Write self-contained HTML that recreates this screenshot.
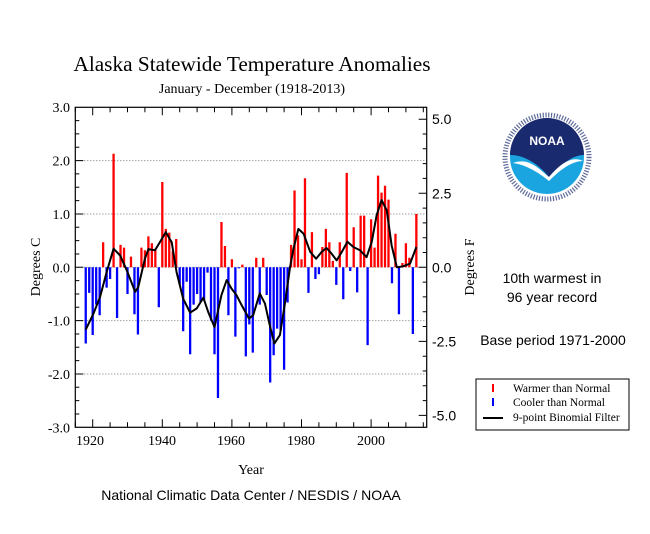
<!DOCTYPE html>
<html><head><meta charset="utf-8">
<style>
html,body{margin:0;padding:0;background:#fff;}
svg{display:block;}
</style></head>
<body>
<svg width="650" height="534" xmlns="http://www.w3.org/2000/svg" font-family="Liberation Serif, serif">
<rect width="650" height="534" fill="#fff"/>
<text x="252" y="71" font-size="21.3" text-anchor="middle">Alaska Statewide Temperature Anomalies</text>
<text x="252" y="93" font-size="14" text-anchor="middle">January - December (1918-2013)</text>
<g stroke="#777" stroke-width="1" stroke-dasharray="1 2">
<line x1="75.3" x2="426.7" y1="160.6" y2="160.6"/>
<line x1="75.3" x2="426.7" y1="214" y2="214"/>
<line x1="75.3" x2="426.7" y1="267.3" y2="267.3"/>
<line x1="75.3" x2="426.7" y1="320.6" y2="320.6"/>
<line x1="75.3" x2="426.7" y1="374" y2="374"/>
</g>
<g transform="translate(85.74,267.3) scale(3.48,-53.33)">
<path fill="none" stroke="#f00" stroke-width="0.66" d="M5,0V0.47M8,0V2.13M10,0V0.42M11,0V0.37M13,0V0.2M16,0V0.37M17,0V0.32M18,0V0.58M19,0V0.45M20,0V0.35M22,0V1.6M23,0V0.72M24,0V0.65M25,0V0.3M26,0V0.53M39,0V0.85M40,0V0.4M42,0V0.15M45,0V0.05M49,0V0.18M51,0V0.18M59,0V0.42M60,0V1.44M61,0V0.6M62,0V0.15M63,0V1.67M65,0V0.66M68,0V0.38M69,0V0.72M70,0V0.47M71,0V0.12M73,0V0.47M75,0V1.77M77,0V0.75M79,0V0.97M80,0V0.97M82,0V0.9M83,0V0.37M84,0V1.72M85,0V1.4M86,0V1.53M87,0V1.27M89,0V0.63M91,0V0.08M92,0V0.45M93,0V0.18M95,0V1.0"/>
<path fill="none" stroke="#00f" stroke-width="0.66" d="M0,0V-1.43M1,0V-0.48M2,0V-1.27M3,0V-0.7M4,0V-0.9M6,0V-0.38M7,0V-0.22M9,0V-0.95M12,0V-0.5M14,0V-0.88M15,0V-1.26M21,0V-0.75M27,0V-0.33M28,0V-1.2M29,0V-0.27M30,0V-1.63M31,0V-0.7M32,0V-0.5M33,0V-0.65M34,0V-0.6M35,0V-0.1M36,0V-1.0M37,0V-1.63M38,0V-2.45M41,0V-0.9M43,0V-1.3M44,0V-0.02M46,0V-1.67M47,0V-1.07M48,0V-1.6M50,0V-0.7M52,0V-0.52M53,0V-2.16M54,0V-1.65M55,0V-1.15M56,0V-1.18M57,0V-1.92M58,0V-0.66M64,0V-0.48M66,0V-0.22M67,0V-0.13M72,0V-0.33M74,0V-0.6M76,0V-0.07M78,0V-0.47M81,0V-1.46M88,0V-0.3M90,0V-0.88M94,0V-1.25"/>
<polyline fill="none" stroke="#000" stroke-width="2" vector-effect="non-scaling-stroke" stroke-linejoin="round" points="0,-1.17 2.2,-0.87 4.1,-0.56 6,-0.09 8,0.35 9.9,0.22 12,-0.09 14.2,-0.46 15.1,-0.37 17,0.16 18,0.34 19.9,0.32 21.3,0.47 23,0.66 24.7,0.47 26.1,-0.09 28,-0.59 30,-0.85 31.9,-0.77 33.8,-0.57 35.2,-0.84 37,-1.12 39,-0.52 40.5,-0.24 41.9,-0.4 43.3,-0.52 44.8,-0.71 46.9,-0.96 48.1,-0.9 50,-0.49 51.5,-0.68 52.9,-1.09 54.2,-1.43 55.8,-1.27 57.3,-0.65 58.7,0 59.7,0.35 61.1,0.72 62.6,0.63 64.5,0.29 66.2,0.16 67.8,0.29 69.2,0.36 70.6,0.26 72.1,0.13 73.6,0.29 75.2,0.48 76.9,0.38 78.8,0.32 80.7,0.19 82.2,0.48 83.6,0.98 85,1.26 86.5,1.07 87.9,0.41 89.4,0 91.3,0.02 93.2,0.07 95,0.38"/>
</g>
<rect x="75.3" y="107.3" width="351.4" height="320" fill="none" stroke="#000" stroke-width="1.2"/>
<g stroke="#000" stroke-width="1" fill="none">
<path d="M75.3,107.3v5M92.7,107.3v8M110.1,107.3v5M127.5,107.3v5M144.9,107.3v5M162.3,107.3v8M179.7,107.3v5M197.1,107.3v5M214.5,107.3v5M231.9,107.3v8M249.3,107.3v5M266.7,107.3v5M284.1,107.3v5M301.5,107.3v8M318.9,107.3v5M336.3,107.3v5M353.7,107.3v5M371.1,107.3v8M388.5,107.3v5M405.9,107.3v5M423.3,107.3v5"/>
<path d="M75.3,427.3v-5M92.7,427.3v-8M110.1,427.3v-5M127.5,427.3v-5M144.9,427.3v-5M162.3,427.3v-8M179.7,427.3v-5M197.1,427.3v-5M214.5,427.3v-5M231.9,427.3v-8M249.3,427.3v-5M266.7,427.3v-5M284.1,427.3v-5M301.5,427.3v-8M318.9,427.3v-5M336.3,427.3v-5M353.7,427.3v-5M371.1,427.3v-8M388.5,427.3v-5M405.9,427.3v-5M423.3,427.3v-5"/>
<path d="M75.3,120.6h4M75.3,133.9h4M75.3,147.3h4M75.3,160.6h8M75.3,173.9h4M75.3,187.3h4M75.3,200.6h4M75.3,214h8M75.3,227.3h4M75.3,240.6h4M75.3,254h4M75.3,267.3h8M75.3,280.6h4M75.3,294h4M75.3,307.3h4M75.3,320.6h8M75.3,334h4M75.3,347.3h4M75.3,360.6h4M75.3,374h8M75.3,387.3h4M75.3,400.6h4M75.3,414h4"/>
<path d="M426.7,119.2h-8M426.7,134h-4M426.7,148.8h-4M426.7,163.6h-4M426.7,178.4h-4M426.7,193.3h-8M426.7,208.1h-4M426.7,222.9h-4M426.7,237.7h-4M426.7,252.5h-4M426.7,267.3h-8M426.7,282.1h-4M426.7,296.9h-4M426.7,311.7h-4M426.7,326.5h-4M426.7,341.4h-8M426.7,356.2h-4M426.7,371h-4M426.7,385.8h-4M426.7,400.6h-4M426.7,415.4h-8"/>
</g>
<g font-size="14" text-anchor="end">
<text x="70" y="112">3.0</text>
<text x="70" y="165.6">2.0</text>
<text x="70" y="219">1.0</text>
<text x="70" y="272.3">0.0</text>
<text x="70" y="325.6">-1.0</text>
<text x="70" y="379">-2.0</text>
<text x="70" y="432.3">-3.0</text>
</g>
<g font-size="14" font-family="Liberation Sans, sans-serif">
<text x="432" y="124.2">5.0</text>
<text x="432" y="198.3">2.5</text>
<text x="432" y="272.3">0.0</text>
<text x="432" y="346.4">-2.5</text>
<text x="432" y="420.4">-5.0</text>
</g>
<g font-size="14" text-anchor="middle">
<text x="90" y="445">1920</text>
<text x="162" y="445">1940</text>
<text x="231" y="445">1960</text>
<text x="301" y="445">1980</text>
<text x="371" y="445">2000</text>
</g>
<text transform="translate(40,267) rotate(-90)" font-size="14" text-anchor="middle">Degrees C</text>
<text transform="translate(474,267) rotate(-90)" font-size="14" text-anchor="middle">Degrees F</text>
<text x="251" y="474" font-size="14" text-anchor="middle">Year</text>
<text x="251" y="500" font-size="14" text-anchor="middle" font-family="Liberation Sans, sans-serif">National Climatic Data Center / NESDIS / NOAA</text>
<g font-family="Liberation Sans, sans-serif" font-size="14" text-anchor="middle">
<text x="552" y="283">10th warmest in</text>
<text x="552" y="302">96 year record</text>
<text x="553" y="345">Base period 1971-2000</text>
</g>
<rect x="476" y="379" width="153" height="51" fill="#fff" stroke="#000" stroke-width="1"/>
<rect x="492" y="384" width="2" height="8" fill="#f00"/>
<rect x="492" y="398" width="2" height="8" fill="#00f"/>
<line x1="483" y1="418" x2="503" y2="418" stroke="#000" stroke-width="2"/>
<g font-size="11.5">
<text x="513" y="392">Warmer than Normal</text>
<text x="513" y="406">Cooler than Normal</text>
<text x="513" y="421">9-point Binomial Filter</text>
</g>
<g transform="translate(547,157)">
<circle r="46" fill="#fff"/>
<circle r="37" fill="#1ba5e0"/>
<path d="M-37,-2 A37,37 0 0 1 37,-2 C25,-2 14,8 2,20 C-6,10 -20,-2 -37,-2 Z" fill="#1a2a6e"/>
<path d="M-34,6 C-18,0 -8,12 2,20 C12,8 24,-2 36,4 C24,4 12,14 2,24 C-8,16 -20,8 -34,6 Z" fill="#fff"/>
<text x="0" y="-12" font-family="Liberation Sans, sans-serif" font-weight="bold" font-size="12" fill="#fff" text-anchor="middle">NOAA</text>
<circle r="42" fill="none" stroke="#1a2a6e" stroke-width="5" stroke-dasharray="1.2 1.6" opacity="0.7"/>
</g>
</svg>
</body></html>
